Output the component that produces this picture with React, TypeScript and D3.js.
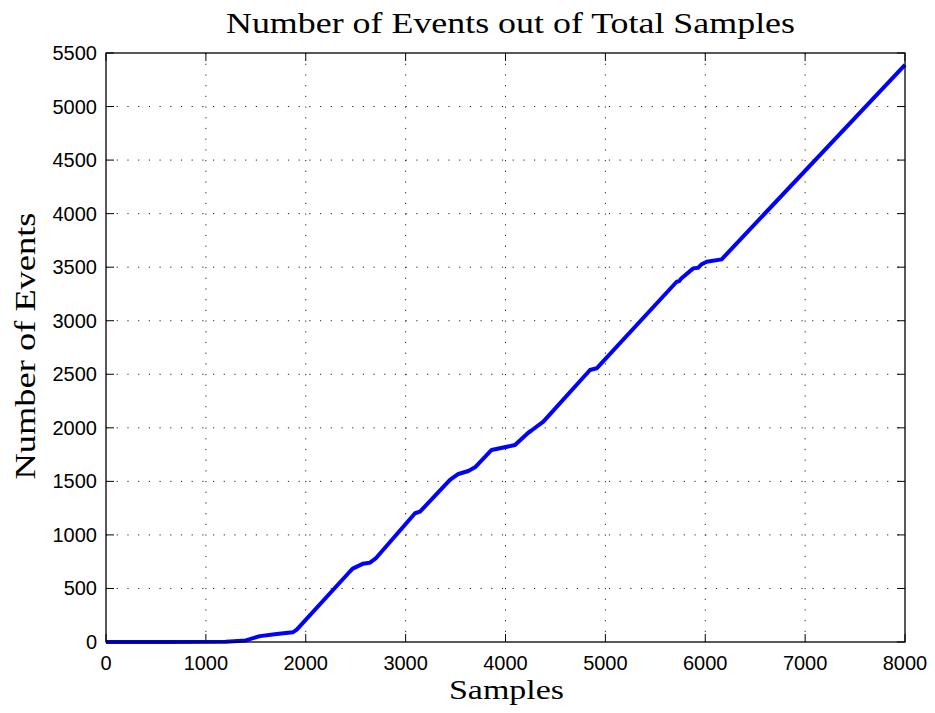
import React from "react";
import * as d3 from "d3";

const samples = [0, 600, 1200, 1400, 1540, 1710, 1870, 1910, 2440, 2470, 2570, 2640, 2700, 3094, 3144, 3444, 3528, 3628, 3695, 3861, 4095, 4228, 4260, 4379, 4846, 4913, 5714, 5740, 5760, 5880, 5930, 5960, 6014, 6164, 8000];
const events = [0, 0, 3, 15, 55, 75, 90, 115, 656, 685, 730, 740, 780, 1202, 1217, 1513, 1569, 1597, 1631, 1793, 1839, 1954, 1975, 2057, 2540, 2556, 3364, 3370, 3395, 3489, 3495, 3525, 3551, 3573, 5390];
const xTicks = [0, 1000, 2000, 3000, 4000, 5000, 6000, 7000, 8000];
const yTicks = [0, 500, 1000, 1500, 2000, 2500, 3000, 3500, 4000, 4500, 5000, 5500];

const W = 935, H = 713;
const L = 106, R = 905, T = 53, B = 642;

export default function App() {
  const x = d3.scaleLinear().domain([0, 8000]).range([L, R]);
  const y = d3.scaleLinear().domain([0, 5500]).range([B, T]);
  const pts = samples.map((s, i) => [s, events[i]] as [number, number]);
  const line = d3.line<[number, number]>().x(d => x(d[0])).y(d => y(d[1]));
  const serif = "'Liberation Serif', 'DejaVu Serif', serif";
  const sans = "'Liberation Sans', Arial, Helvetica, sans-serif";
  return (
    <svg width={W} height={H} style={{ position: "absolute", left: 0, top: 0, background: "#fff" }}>
      <rect x={0} y={0} width={W} height={H} fill="#fff" />
      {/* grid */}
      {xTicks.slice(1, -1).map(t => (
        <line key={"gx" + t} x1={x(t)} x2={x(t)} y1={T} y2={B} stroke="#222" strokeWidth={1} strokeDasharray="1.2,9.5" />
      ))}
      {yTicks.slice(1, -1).map(t => (
        <line key={"gy" + t} x1={L} x2={R} y1={y(t)} y2={y(t)} stroke="#222" strokeWidth={1} strokeDasharray="1.2,9.5" />
      ))}
      {/* ticks */}
      {xTicks.map(t => (
        <g key={"tx" + t}>
          <line x1={x(t)} x2={x(t)} y1={B} y2={B - 8} stroke="#000" strokeWidth={1} />
          <line x1={x(t)} x2={x(t)} y1={T} y2={T + 8} stroke="#000" strokeWidth={1} />
          <text x={x(t)} y={670} textAnchor="middle" fontFamily={sans} fontSize={20} fill="#000">{t}</text>
        </g>
      ))}
      {yTicks.map(t => (
        <g key={"ty" + t}>
          <line x1={L} x2={L + 8} y1={y(t)} y2={y(t)} stroke="#000" strokeWidth={1} />
          <line x1={R} x2={R - 8} y1={y(t)} y2={y(t)} stroke="#000" strokeWidth={1} />
          <text x={97} y={y(t) + 7} textAnchor="end" fontFamily={sans} fontSize={20} fill="#000">{t}</text>
        </g>
      ))}
      {/* data */}
      <path d={line(pts) || ""} fill="none" stroke="#0000ff" strokeWidth={4} strokeLinejoin="round" strokeLinecap="butt" />
      {/* box */}
      <rect x={L} y={T} width={R - L} height={B - T} fill="none" stroke="#000" strokeWidth={1.3} />
      {/* titles */}
      <text x={510.5} y={33} textAnchor="middle" fontFamily={serif} fontSize={30} textLength={569} lengthAdjust="spacingAndGlyphs" fill="#000">Number of Events out of Total Samples</text>
      <text x={506.5} y={699} textAnchor="middle" fontFamily={serif} fontSize={28} textLength={115} lengthAdjust="spacingAndGlyphs" fill="#000">Samples</text>
      <text transform={`translate(35,346) rotate(-90)`} textAnchor="middle" fontFamily={serif} fontSize={30} textLength={267} lengthAdjust="spacingAndGlyphs" fill="#000">Number of Events</text>
    </svg>
  );
}
